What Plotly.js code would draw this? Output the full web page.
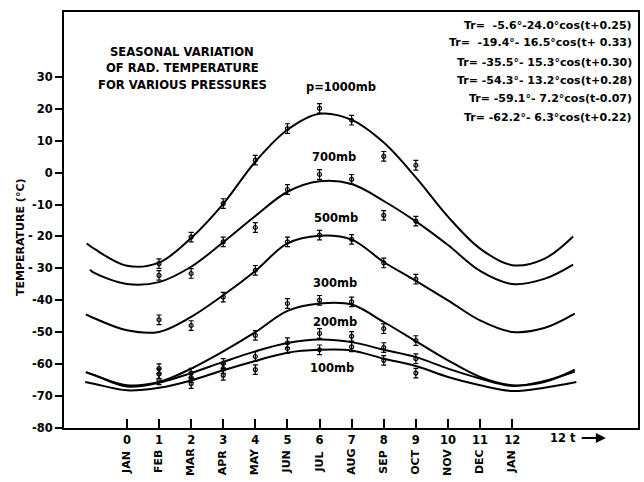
<!DOCTYPE html>
<html>
<head>
<meta charset="utf-8">
<script src="https://cdn.plot.ly/plotly-3.0.1.min.js"></script>
<style>html,body{margin:0;padding:0;background:#fff}#chart{width:644px;height:482px}</style>
</head>
<body>
<div id="chart"></div>
<script>
// ---- data ----
const levels = ["p=1000mb", "700mb", "500mb", "300mb", "200mb", "100mb"];

// fitted curves (month axis t, temperature in deg C)
const curveX1000 = [-1.25, -1, 0, 1, 2, 3, 4, 5, 6, 7, 8, 9, 10, 11, 12, 13, 13.9];
const curve1000  = [-22.2, -24.0, -29.2, -28.2, -20.5, -9.8, 3.4, 13.4, 18.4, 16.5, 9.4, -1.5, -13.8, -23.8, -29.0, -27.0, -20.0];
const curveX700  = [-1.15, -1, 0, 1, 2, 3, 4, 5, 6, 7, 8, 9, 10, 11, 12, 13, 13.9];
const curve700   = [-30.4, -31.5, -34.9, -34.3, -29.5, -21.8, -13.6, -6.0, -2.7, -3.6, -8.9, -15.3, -22.7, -30.8, -34.9, -33.3, -28.8];
const curveX500  = [-1.28, -1, 0, 1, 2, 3, 4, 5, 6, 7, 8, 9, 10, 11, 12, 13, 13.95];
const curve500   = [-44.4, -45.7, -49.4, -49.9, -45.2, -38.4, -30.8, -22.2, -19.8, -21.0, -28.0, -33.9, -40.0, -46.3, -49.9, -48.7, -44.2];
const curveX300  = [-1.28, -1, 0, 1, 2, 3, 4, 5, 6, 7, 8, 9, 10, 11, 12, 13, 13.95];
const curve300   = [-62.5, -63.5, -66.6, -65.6, -61.4, -56.0, -50.0, -43.3, -41.0, -41.3, -46.8, -52.8, -58.8, -64.0, -66.6, -65.6, -61.7];
const curveX200  = [-1.28, -1, 0, 1, 2, 3, 4, 5, 6, 7, 8, 9, 10, 11, 12, 13, 13.95];
const curve200   = [-62.5, -63.5, -67.0, -65.8, -62.8, -59.3, -56.0, -53.4, -52.3, -53.1, -55.5, -57.8, -61.4, -64.5, -66.8, -65.3, -62.3];
const curveX100  = [-1.3, -1, 0, 1, 2, 3, 4, 5, 6, 7, 8, 9, 10, 11, 12, 13, 14.0];
const curve100   = [-65.6, -66.2, -68.2, -67.4, -65.1, -61.9, -59.0, -56.4, -55.5, -55.7, -58.3, -60.6, -64.0, -66.6, -68.4, -67.4, -65.6];

// observed monthly points (FEB..OCT)
const obsMonths = [1, 2, 3, 4, 5, 6, 7, 8, 9];
const obs1000 = [-28.5, -20.2, -9.7, 3.9, 13.8, 20.1, 16.4, 5.1, 2.3];
const obs700  = [-32.2, -31.6, -21.7, -17.2, -5.3, -0.6, -2.1, -13.4, -15.2];
const obs500  = [-46.1, -47.9, -39.0, -30.6, -21.7, -19.6, -20.9, -28.3, -33.4];
const obs300  = [-61.4, -62.8, -59.8, -51.0, -41.0, -40.0, -40.5, -48.9, -52.6];
const obs200  = [-63.0, -64.2, -61.4, -57.6, -53.3, -50.4, -51.3, -54.8, -58.3];
const obs100  = [-64.9, -66.1, -63.5, -61.7, -55.1, -55.5, -54.6, -58.8, -62.8];
const obsHalfError = 1.5;

// axes
const xTickVals = [0, 1, 2, 3, 4, 5, 6, 7, 8, 9, 10, 11, 12];
const xTickText = ["0", "1", "2", "3", "4", "5", "6", "7", "8", "9", "10", "11", "12"];
const monthNames = ["JAN", "FEB", "MAR", "APR", "MAY", "JUN", "JUL", "AUG", "SEP", "OCT", "NOV", "DEC", "JAN"];
const yTickVals = [30, 20, 10, 0, -10, -20, -30, -40, -50, -60, -70, -80];
const yTickText = ["30", "20", "10", "0", "-10", "- 20", "- 30", "-40", "-50", "-60", "-70", "-80"];
const yRightTicks = [0, -10, -20, -30, -40, -50, -60, -70];

const formulas = [
  "Tr=  -5.6°-24.0°cos(t+0.25)",
  "Tr=  -19.4°- 16.5°cos(t+ 0.33)",
  "Tr= -35.5°- 15.3°cos(t+0.30)",
  "Tr= -54.3°- 13.2°cos(t+0.28)",
  "Tr= -59.1°- 7.2°cos(t-0.07)",
  "Tr= -62.2°- 6.3°cos(t+0.22)"
];
const titleLines = ["SEASONAL VARIATION", "OF RAD. TEMPERATURE", "FOR VARIOUS PRESSURES"];

// ---- build ----
const FONT = "DejaVu Sans, Liberation Sans, Arial, sans-serif";
const curvesX = [curveX1000, curveX700, curveX500, curveX300, curveX200, curveX100];
const curvesY = [curve1000, curve700, curve500, curve300, curve200, curve100];
const obsY = [obs1000, obs700, obs500, obs300, obs200, obs100];

const traces = [];
curvesX.forEach((xs, i) => {
  traces.push({
    x: xs, y: curvesY[i], type: "scatter", mode: "lines", name: levels[i],
    line: {color: "#000", width: 2, shape: "spline", smoothing: 1},
    hoverinfo: "skip", showlegend: false
  });
});
obsY.forEach((ys, i) => {
  traces.push({
    x: obsMonths, y: ys, type: "scatter", mode: "markers", name: levels[i] + " obs",
    marker: {symbol: "circle-open", size: 4, color: "#000", line: {width: 1.2, color: "#000"}},
    error_y: {type: "constant", value: obsHalfError, color: "#000", thickness: 1.2, width: 2.5},
    showlegend: false
  });
});

const bold = (s) => ({family: FONT, size: s, color: "#000", weight: "bold"});
const annotations = [];
const labelPos = [[6.67, 26.8], [6.45, 4.8], [6.5, -14.3], [6.48, -34.7], [6.48, -46.9], [6.39, -61.3]];
levels.forEach((t, i) => {
  annotations.push({x: labelPos[i][0], y: labelPos[i][1], xref: "x", yref: "y", text: t, showarrow: false, font: bold(11.5)});
});
const titleY = [37.8, 32.8, 27.4];
titleLines.forEach((t, i) => {
  annotations.push({x: 1.72, y: titleY[i], xref: "x", yref: "y", text: t, showarrow: false, font: bold(11.6)});
});
const formY = [46.2, 40.6, 34.6, 29.0, 23.3, 17.4];
formulas.forEach((t, i) => {
  annotations.push({x: 15.78, y: formY[i], xref: "x", yref: "y", text: t, showarrow: false, xanchor: "right", font: bold(11)});
});
monthNames.forEach((m, i) => {
  annotations.push({x: xTickVals[i], y: -0.0817, xref: "x", yref: "paper", text: m, showarrow: false, textangle: -90,
    xanchor: "center", yanchor: "middle", font: bold(11)});
});
annotations.push({x: 14.05, y: -0.024, xref: "x", yref: "paper", text: "12 t", showarrow: false, xanchor: "right", yanchor: "middle", font: bold(11.5)});
annotations.push({x: 14.92, y: -0.024, ax: 14.12, ay: -0.024, axref: "x", ayref: "paper", xref: "x", yref: "paper", text: "",
  showarrow: true, arrowhead: 2, arrowsize: 1, arrowwidth: 2, arrowcolor: "#000"});
annotations.push({x: -0.0767, y: -20.2, xref: "paper", yref: "y", text: "TEMPERATURE (°C)", showarrow: false, textangle: -90,
  xanchor: "center", yanchor: "middle", font: bold(11)});

const layout = {
  width: 644, height: 482,
  margin: {l: 64, r: 6, t: 12, b: 54},
  paper_bgcolor: "#fff", plot_bgcolor: "#fff",
  showlegend: false,
  font: {family: FONT, size: 11, color: "#000"},
  xaxis: {
    range: [-1.96, 15.92], tickmode: "array", tickvals: xTickVals, ticktext: xTickText,
    ticks: "inside", ticklen: 9, tickwidth: 2, tickcolor: "#000",
    showline: true, linewidth: 2, linecolor: "#000", mirror: true,
    showgrid: false, zeroline: false, tickfont: bold(11.5)
  },
  yaxis: {
    range: [-80, 50.3], tickmode: "array", tickvals: yTickVals, ticktext: yTickText,
    ticks: "outside", ticklen: 7, tickwidth: 2, tickcolor: "#000",
    showline: true, linewidth: 2, linecolor: "#000", mirror: true,
    showgrid: false, zeroline: false, tickfont: bold(11.5)
  },
  yaxis2: {
    overlaying: "y", side: "right", range: [-80, 50.3], tickmode: "array", tickvals: yRightTicks,
    ticks: "inside", ticklen: 7, tickwidth: 1.5, tickcolor: "#000", showticklabels: false,
    showline: false, showgrid: false, zeroline: false
  },
  annotations: annotations
};

Plotly.newPlot("chart", traces, layout, {staticPlot: true, displayModeBar: false});
</script>
</body>
</html>
